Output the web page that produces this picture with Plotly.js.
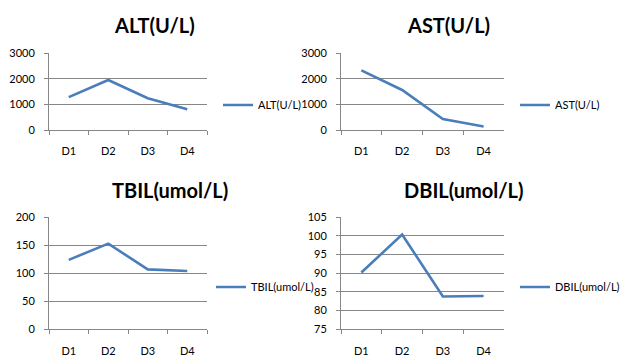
<!DOCTYPE html>
<html><head><meta charset="utf-8">
<script src="https://cdn.plot.ly/plotly-3.0.1.min.js"></script>
<style>html,body{margin:0;padding:0;background:#fff}#c{width:640px;height:361px}</style>
</head><body><div id="c"></div>
<script>
const days = ["D1","D2","D3","D4"];
const altName = "ALT(U/L)";
const altVals = [1280, 1950, 1240, 810];
const astName = "AST(U/L)";
const astVals = [2320, 1560, 430, 140];
const tbilName = "TBIL(umol/L)";
const tbilVals = [124, 153, 107, 104];
const dbilName = "DBIL(umol/L)";
const dbilVals = [90.2, 100.4, 83.8, 83.9];

const font = "Lato, 'Open Sans', sans-serif";
const lineColor = "#4A7EBB";
const gridColor = "#878787";

function trace(name, vals, ax, leg){
  return {x: days, y: vals, name: name, type: "scatter", mode: "lines",
    line: {color: lineColor, width: 2.6}, xaxis: "x"+ax, yaxis: "y"+ax,
    legend: leg, showlegend: true};
}
const data = [
  trace(altName, altVals, "", "legend"),
  trace(astName, astVals, "2", "legend2"),
  trace(tbilName, tbilVals, "3", "legend3"),
  trace(dbilName, dbilVals, "4", "legend4")
];

function xax(dom, anchor){
  return {domain: dom, anchor: anchor, type: "category", range: [-0.5, 3.5],
    tickson: "boundaries", ticks: "outside", ticklen: 4, tickcolor: gridColor,
    ticklabelstandoff: 11,
    showline: true, linecolor: gridColor, linewidth: 1, showgrid: false,
    tickfont: {family: font, size: 11, color: "#000"}, fixedrange: true, zeroline: false};
}
function yax(dom, anchor, range, dtick){
  return {domain: dom, anchor: anchor, range: range, dtick: dtick,
    ticks: "outside", ticklen: 4, tickcolor: gridColor, ticklabelstandoff: 7,
    showline: true, linecolor: gridColor, linewidth: 1,
    showgrid: true, gridcolor: gridColor, gridwidth: 1, zeroline: false,
    tickfont: {family: font, size: 11, color: "#000"}, fixedrange: true};
}
const xL = [49/640, 207/640], xR = [341/640, 504/640];
const yT = [(361-130)/361, (361-53)/361], yB = [(361-329.3)/361, (361-217.3)/361];

function leg(x, y){
  return {x: x/640, y: 1 - y/361, xanchor: "left", yanchor: "middle",
    bgcolor: "rgba(0,0,0,0)", font: {family: font, size: 11, color: "#000"},
    itemclick: false, itemdoubleclick: false};
}
function title(text, x, y){
  return {text: text, x: x/640, y: 1 - y/361, xref: "paper", yref: "paper",
    xanchor: "center", yanchor: "middle", showarrow: false,
    font: {family: font, size: 20, color: "#000", weight: "bold"}};
}

const layout = {
  width: 640, height: 361, margin: {l: 0, r: 0, t: 0, b: 0},
  paper_bgcolor: "#fff", plot_bgcolor: "#fff",
  xaxis: xax(xL, "y"), yaxis: yax(yT, "x", [0, 3000], 1000),
  xaxis2: xax(xR, "y2"), yaxis2: yax(yT, "x2", [0, 3000], 1000),
  xaxis3: xax(xL, "y3"), yaxis3: yax(yB, "x3", [0, 200], 50),
  xaxis4: xax(xR, "y4"), yaxis4: yax(yB, "x4", [75, 105], 5),
  legend: leg(218, 105), legend2: leg(515, 105),
  legend3: leg(211, 287), legend4: leg(515, 287),
  annotations: [
    title("ALT(U/L)", 154, 25), title("AST(U/L)", 448, 25),
    title("TBIL(umol/L)", 170, 190), title("DBIL(umol/L)", 463, 190)
  ],
  showlegend: true
};
Plotly.newPlot("c", data, layout, {staticPlot: true, displayModeBar: false});
</script></body></html>
